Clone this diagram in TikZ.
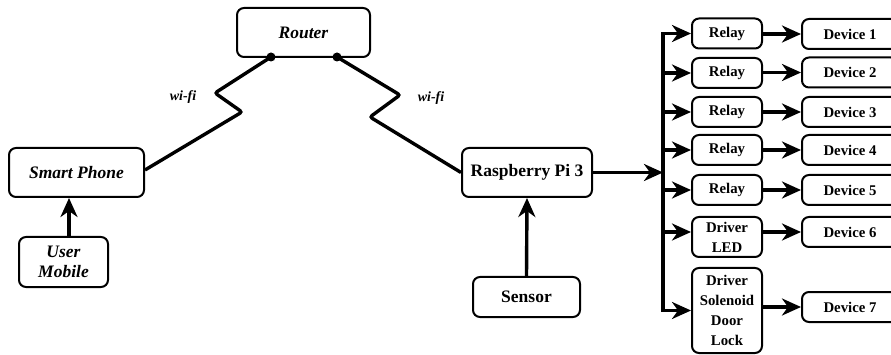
\documentclass[tikz,border=0pt]{standalone}
\usepackage{fontspec}
\setmainfont{Liberation Serif}
\usetikzlibrary{arrows.meta,calc}
\newcommand\bigtxt{\fontsize{17.5}{20}\selectfont\bfseries}
\newcommand\smalltxt{\fontsize{14.8}{20}\selectfont\bfseries}
\tikzset{
  box/.style={draw, rounded corners=7pt, line width=2pt, inner sep=0pt, align=center},
  bigbox/.style={box, font=\bigtxt},
  smallbox/.style={box, font=\smalltxt},
  wire/.style={line width=3.4pt, rounded corners=2.5pt},
  arr/.style={line width=3.4pt, -{Stealth[length=19pt,width=17pt,inset=6pt]}},
  dot/.style={circle, fill, inner sep=0pt, minimum size=9pt},
  lbl/.style={font=\fontsize{14}{16}\selectfont\bfseries\itshape}
}
\begin{document}
\begin{tikzpicture}[x=1pt,y=-1pt]
\useasboundingbox (0,0) rectangle (891,355);
\clip (0,0) rectangle (891,355);
% left side
\node[bigbox, font=\bigtxt\itshape, minimum width=133pt, minimum height=49pt] (rt) at (303.5,32.5) {Router};
\node[bigbox, font=\bigtxt\itshape, minimum width=135pt, minimum height=49pt] (sp) at (76.5,172.5) {Smart Phone};
\node[bigbox, font=\bigtxt\itshape, minimum width=89pt, minimum height=50pt] (um) at (63.5,262) {User\\Mobile};
\node[bigbox, minimum width=130pt, minimum height=49pt] (rp) at (527,172.5) {Raspberry Pi 3};
\node[bigbox, minimum width=107pt, minimum height=40pt] (sn) at (526.5,297) {Sensor};
% relays
\foreach \i/\y in {1/33.5,2/73,3/112,4/150,5/190}{
  \node[smallbox, minimum width=70pt, minimum height=30pt] (r\i) at (727,\y) {Relay};
}
\node[smallbox, minimum width=70pt, minimum height=40pt] (r6) at (727,237) {Driver\\LED};
\node[smallbox, minimum width=70pt, minimum height=85pt] (r7) at (727,310.5) {Driver\\Solenoid\\Door\\Lock};
% devices
\foreach \i/\y in {1/34,2/72.5,3/112,4/150,5/190,6/232,7/307}{
  \node[smallbox, minimum width=96pt, minimum height=30pt] (dv\i) at (850,\y) {Device \i};
}
% dots on router
\node[dot] (d1) at (271,57) {};
\node[dot] (d2) at (337,57) {};
% wifi links
\draw[wire] ([yshift=2.5pt]sp.east) -- (242,112) -- (215,93) -- (d1.center);
\draw[wire] (d2.center) -- (400,95) -- (370,117) -- (rp.west);
\node[lbl] (w1) at (183,97) {wi-fi};
\node[lbl] (w2) at (431,98) {wi-fi};
% user mobile to phone
\coordinate (ux) at (69,0);
\draw[arr] (um.north -| ux) -- (sp.south -| ux);
% sensor to pi
\draw[arr] (sn.north) -- (rp.south);
% bus
\coordinate (bx) at (663,0);
\coordinate (btop) at (663,34);
\coordinate (bbot) at (663,310.5);
\draw[arr] (rp.east) -- (rp.east -| bx);
\draw[line width=3.4pt, line cap=rect] (btop) -- (bbot);
\foreach \i in {1,2,3,4,5,7}{
  \draw[arr] (r\i.west -| bx) -- (r\i.west);
}
\coordinate (ly) at (0,232);
\draw[arr] (ly -| bx) -- (ly -| r6.west);
% relay to device
\foreach \i in {1,2,3,4,5,6,7}{
  \draw[arr] (dv\i.west -| r\i.east) -- (dv\i.west);
}
\end{tikzpicture}
\end{document}
